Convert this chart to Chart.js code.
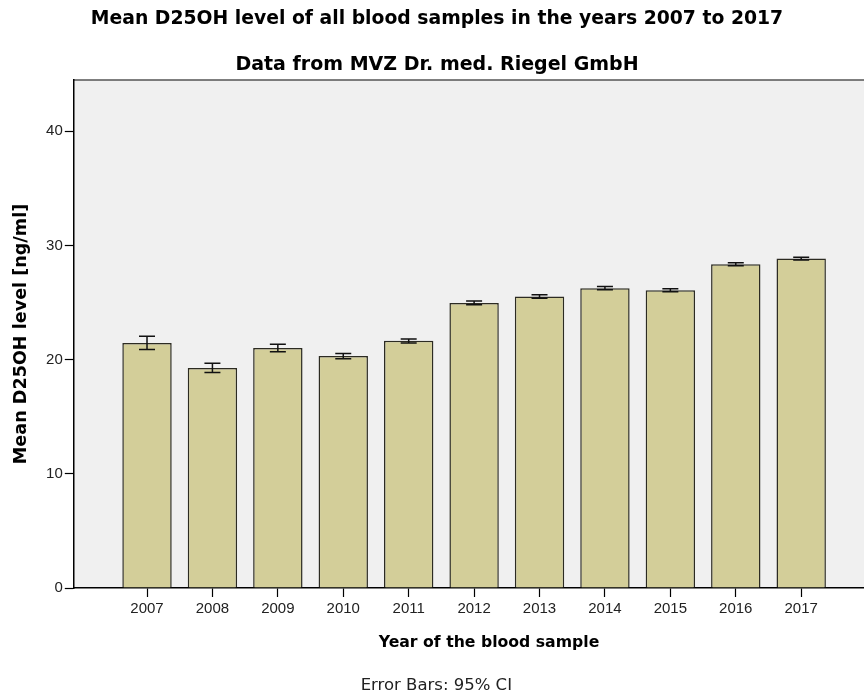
<!DOCTYPE html>
<html>
<head>
<meta charset="utf-8">
<script src="https://cdn.jsdelivr.net/npm/chart.js@4"></script>
<style>
  html, body { margin: 0; padding: 0; background: #fff; overflow: hidden; }
  #wrap { width: 864px; height: 695px; position: relative; }
</style>
</head>
<body>
<div id="wrap"><canvas id="grafica"></canvas></div>
<script>
const years = [2007, 2008, 2009, 2010, 2011, 2012, 2013, 2014, 2015, 2016, 2017];
const meanLevel = [21.47, 19.28, 21.03, 20.33, 21.65, 24.97, 25.53, 26.26, 26.08, 28.36, 28.86];
const ciLower = [20.89, 18.88, 20.69, 20.07, 21.47, 24.80, 25.38, 26.12, 25.94, 28.22, 28.74];
const ciUpper = [22.06, 19.69, 21.36, 20.54, 21.82, 25.14, 25.68, 26.40, 26.22, 28.50, 28.98];
const yTicks = [0, 10, 20, 30, 40];

const titleFont = "'DejaVu Sans', Verdana, sans-serif";
const tickFont = "'Liberation Sans', Arial, sans-serif";

// fondo gris del area de trazado + linea superior
const plotBackground = {
  id: 'plotBackground',
  beforeDraw(chart) {
    const { ctx, chartArea: a } = chart;
    ctx.save();
    ctx.fillStyle = '#f0f0f0';
    ctx.fillRect(a.left, a.top, a.right - a.left, a.bottom - a.top);
    ctx.strokeStyle = '#555';
    ctx.lineWidth = 1.5;
    ctx.beginPath();
    ctx.moveTo(a.left, a.top);
    ctx.lineTo(a.right, a.top);
    ctx.stroke();
    ctx.restore();
  }
};

// barras de error (IC 95%)
const errorBars = {
  id: 'errorBars',
  afterDatasetsDraw(chart) {
    const { ctx, scales: { x, y } } = chart;
    ctx.save();
    ctx.strokeStyle = '#111';
    ctx.lineWidth = 1.5;
    years.forEach((yr, i) => {
      const px = x.getPixelForValue(yr);
      const lo = y.getPixelForValue(ciLower[i]);
      const hi = y.getPixelForValue(ciUpper[i]);
      ctx.beginPath();
      ctx.moveTo(px, lo);
      ctx.lineTo(px, hi);
      ctx.moveTo(px - 8, lo);
      ctx.lineTo(px + 8, lo);
      ctx.moveTo(px - 8, hi);
      ctx.lineTo(px + 8, hi);
      ctx.stroke();
    });
    ctx.restore();
  }
};

// titulo del eje x (desplazado como en el original) y nota al pie
const bottomTexts = {
  id: 'bottomTexts',
  afterDraw(chart) {
    const ctx = chart.ctx;
    ctx.save();
    ctx.textAlign = 'center';
    ctx.textBaseline = 'middle';
    ctx.fillStyle = '#000';
    ctx.font = `bold 15.7px ${titleFont}`;
    ctx.fillText('Year of the blood sample', 489, chart.height - 52);
    ctx.fillStyle = '#222';
    ctx.font = `16.5px ${titleFont}`;
    ctx.fillText('Error Bars: 95% CI', chart.width * 0.505, chart.height - 9);
    ctx.restore();
  }
};

const $grafica = document.querySelector('#grafica');

new Chart($grafica, {
  type: 'bar',
  data: {
    datasets: [{
      label: 'Mean D25OH level',
      data: years.map((yr, i) => ({ x: yr, y: meanLevel[i] })),
      backgroundColor: '#d3ce99',
      borderColor: '#2c2b22',
      borderWidth: 1.5,
      categoryPercentage: 1,
      barPercentage: 0.755
    }]
  },
  options: {
    responsive: true,
    maintainAspectRatio: false,
    animation: false,
    layout: { padding: { left: 10, right: 0, top: 0, bottom: 74 } },
    plugins: {
      legend: { display: false },
      tooltip: { enabled: false },
      title: {
        display: true,
        text: 'Mean D25OH level of all blood samples in the years 2007 to 2017',
        color: '#000',
        font: { family: titleFont, size: 18.8, weight: 'bold', lineHeight: 1.2 },
        padding: { top: 8, bottom: 10 }
      },
      subtitle: {
        display: true,
        text: 'Data from MVZ Dr. med. Riegel GmbH',
        color: '#000',
        font: { family: titleFont, size: 19, weight: 'bold', lineHeight: 1.2 },
        padding: { top: 13, bottom: 3.6 }
      }
    },
    scales: {
      x: {
        type: 'linear',
        offset: false,
        min: 2005.881,
        max: 2017.96,
        afterBuildTicks: (s) => { s.ticks = years.map(v => ({ value: v })); },
        ticks: {
          stepSize: 1,
          color: '#222',
          padding: 3,
          font: { family: tickFont, size: 15 },
          callback: (v) => String(v)
        },
        grid: { offset: false, drawOnChartArea: false, drawTicks: true, tickLength: 9, tickColor: '#000', tickWidth: 1.2 },
        border: { color: '#000', width: 1.5 }
      },
      y: {
        min: 0,
        max: 44.5,
        afterBuildTicks: (s) => { s.ticks = yTicks.map(v => ({ value: v })); },
        ticks: {
          stepSize: 10,
          color: '#222',
          padding: 2,
          font: { family: tickFont, size: 15 }
        },
        grid: { drawOnChartArea: false, drawTicks: true, tickLength: 9, tickColor: '#000', tickWidth: 1.2 },
        border: { color: '#000', width: 1.5 },
        title: {
          display: true,
          text: 'Mean D25OH level [ng/ml]',
          color: '#000',
          font: { family: titleFont, size: 17.6, weight: 'bold', lineHeight: 1.2 },
          padding: { top: 1, bottom: 12 }
        }
      }
    }
  },
  plugins: [plotBackground, errorBars, bottomTexts]
});
</script>
</body>
</html>
